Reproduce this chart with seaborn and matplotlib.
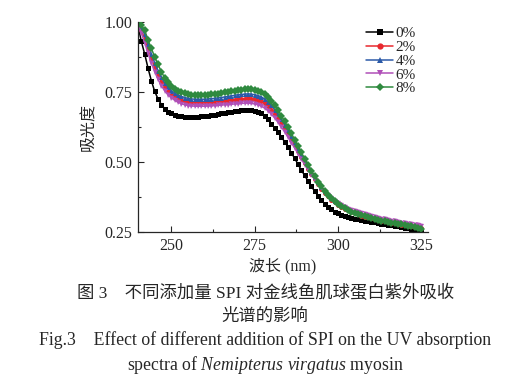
import numpy as np
import pandas as pd
import matplotlib
matplotlib.use("Agg")
import matplotlib.pyplot as plt
import seaborn as sns
from matplotlib.ticker import MultipleLocator

wavelength = list(range(240, 326))

abs_0 = [0.985, 0.93, 0.885, 0.835, 0.79, 0.752, 0.725, 0.705, 0.690, 0.680,
         0.673, 0.668, 0.665, 0.663, 0.662, 0.661, 0.661, 0.661, 0.662, 0.663,
         0.664, 0.665, 0.667, 0.669, 0.671, 0.673, 0.675, 0.677, 0.679, 0.681,
         0.683, 0.684, 0.685, 0.686, 0.685, 0.683, 0.679, 0.673, 0.665, 0.652,
         0.637, 0.622, 0.607, 0.590, 0.572, 0.553, 0.533, 0.513, 0.492, 0.471,
         0.452, 0.432, 0.413, 0.396, 0.379, 0.364, 0.351, 0.340, 0.331, 0.323,
         0.317, 0.312, 0.308, 0.304, 0.301, 0.298, 0.296, 0.293, 0.291, 0.289,
         0.287, 0.285, 0.282, 0.280, 0.278, 0.276, 0.274, 0.272, 0.270, 0.268,
         0.266, 0.263, 0.261, 0.259, 0.256, 0.254]
abs_2 = [1.0, 0.97, 0.94, 0.905, 0.87, 0.838, 0.81, 0.787, 0.768, 0.753,
         0.741, 0.732, 0.725, 0.720, 0.716, 0.713, 0.711, 0.710, 0.710, 0.710,
         0.710, 0.711, 0.712, 0.713, 0.714, 0.716, 0.717, 0.719, 0.721, 0.722,
         0.724, 0.725, 0.726, 0.727, 0.726, 0.724, 0.721, 0.716, 0.709, 0.699,
         0.687, 0.672, 0.656, 0.638, 0.620, 0.600, 0.580, 0.559, 0.538, 0.517,
         0.496, 0.476, 0.456, 0.438, 0.420, 0.404, 0.390, 0.377, 0.366, 0.356,
         0.347, 0.340, 0.333, 0.327, 0.322, 0.317, 0.313, 0.309, 0.305, 0.302,
         0.299, 0.296, 0.293, 0.291, 0.288, 0.286, 0.283, 0.281, 0.279, 0.276,
         0.274, 0.272, 0.270, 0.268, 0.266, 0.264]
abs_4 = [1.0, 0.98, 0.955, 0.92, 0.885, 0.853, 0.826, 0.802, 0.782, 0.767,
         0.755, 0.746, 0.739, 0.734, 0.730, 0.727, 0.725, 0.724, 0.724, 0.724,
         0.724, 0.725, 0.726, 0.727, 0.729, 0.730, 0.732, 0.734, 0.736, 0.738,
         0.740, 0.741, 0.742, 0.743, 0.742, 0.740, 0.737, 0.732, 0.725, 0.715,
         0.702, 0.687, 0.670, 0.652, 0.633, 0.613, 0.592, 0.571, 0.549, 0.527,
         0.506, 0.485, 0.465, 0.446, 0.428, 0.412, 0.397, 0.384, 0.372, 0.362,
         0.353, 0.345, 0.338, 0.332, 0.327, 0.322, 0.318, 0.314, 0.310, 0.307,
         0.304, 0.301, 0.298, 0.296, 0.293, 0.291, 0.288, 0.286, 0.284, 0.281,
         0.279, 0.277, 0.275, 0.273, 0.271, 0.269]
abs_6 = [0.995, 0.96, 0.925, 0.888, 0.853, 0.822, 0.795, 0.772, 0.754, 0.740,
         0.729, 0.720, 0.713, 0.708, 0.704, 0.701, 0.700, 0.699, 0.699, 0.699,
         0.699, 0.700, 0.700, 0.701, 0.702, 0.703, 0.704, 0.705, 0.706, 0.707,
         0.708, 0.709, 0.710, 0.710, 0.709, 0.707, 0.704, 0.699, 0.692, 0.683,
         0.671, 0.657, 0.642, 0.625, 0.607, 0.589, 0.569, 0.550, 0.530, 0.510,
         0.491, 0.472, 0.454, 0.437, 0.421, 0.406, 0.393, 0.381, 0.370, 0.361,
         0.353, 0.346, 0.340, 0.334, 0.329, 0.325, 0.321, 0.317, 0.313, 0.310,
         0.307, 0.304, 0.301, 0.298, 0.296, 0.293, 0.291, 0.289, 0.286, 0.284,
         0.282, 0.280, 0.278, 0.276, 0.274, 0.272]
abs_8 = [1.0, 0.99, 0.97, 0.935, 0.905, 0.875, 0.848, 0.822, 0.80, 0.785,
         0.772, 0.762, 0.755, 0.749, 0.745, 0.742, 0.740, 0.739, 0.738, 0.738,
         0.739, 0.740, 0.741, 0.742, 0.744, 0.746, 0.748, 0.750, 0.752, 0.754,
         0.756, 0.758, 0.759, 0.760, 0.760, 0.758, 0.755, 0.750, 0.743, 0.733,
         0.719, 0.703, 0.685, 0.665, 0.645, 0.624, 0.602, 0.580, 0.557, 0.534,
         0.512, 0.490, 0.469, 0.449, 0.430, 0.413, 0.397, 0.383, 0.370, 0.359,
         0.350, 0.342, 0.335, 0.329, 0.323, 0.318, 0.314, 0.310, 0.306, 0.303,
         0.300, 0.297, 0.294, 0.291, 0.289, 0.286, 0.284, 0.281, 0.279, 0.277,
         0.275, 0.272, 0.270, 0.268, 0.266, 0.262]

levels = ["0%", "2%", "4%", "6%", "8%"]
series = [abs_0, abs_2, abs_4, abs_6, abs_8]

df = pd.concat([
    pd.DataFrame({"wavelength": wavelength, "absorbance": vals, "level": lvl})
    for lvl, vals in zip(levels, series)
])

palette = {"0%": "#000000", "2%": "#e8282e", "4%": "#2c5aa8",
           "6%": "#b050b8", "8%": "#2f8a3f"}
markers = {"0%": "s", "2%": "o", "4%": "^", "6%": "v", "8%": "D"}

sns.set_style("ticks")
plt.rcParams['font.family'] = ['Liberation Serif', 'Noto Sans CJK SC']
plt.rcParams['mathtext.fontset'] = 'custom'
plt.rcParams['mathtext.rm'] = 'Liberation Serif'
plt.rcParams['mathtext.it'] = 'Liberation Serif:italic'

fig = plt.figure(figsize=(5.15, 3.9), dpi=100)
ax = fig.add_axes([0.268, 0.405, 0.563, 0.539])

sns.lineplot(
    data=df, x="wavelength", y="absorbance",
    hue="level", style="level",
    palette=palette, markers=markers, dashes=False,
    markersize=3.6, markeredgewidth=0, linewidth=1.1,
    ax=ax
)

ax.set_xlim(240, 327)
ax.set_ylim(0.25, 1.0)
ax.xaxis.set_major_locator(MultipleLocator(25))
ax.xaxis.set_minor_locator(MultipleLocator(12.5))
ax.yaxis.set_major_locator(MultipleLocator(0.25))
ax.yaxis.set_minor_locator(MultipleLocator(0.125))
ax.set_xticks([250, 275, 300, 325])
ax.tick_params(which='both', direction='in', labelsize=11.5, width=0.8)
ax.tick_params(which='major', length=4, pad=4)
ax.tick_params(which='minor', length=2)
ax.yaxis.set_major_formatter(plt.FormatStrFormatter('%.2f'))
sns.despine(ax=ax)
for sp in ax.spines.values():
    sp.set_linewidth(0.9)

ax.set_xlabel("波长 (nm)", fontsize=11.5, labelpad=3)
ax.set_ylabel("吸光度", fontsize=11.5, labelpad=5)

leg = ax.legend(loc='upper right', bbox_to_anchor=(0.99, 1.02), frameon=False,
                fontsize=11, handlelength=1.8, handletextpad=0.15,
                labelspacing=0.0, borderaxespad=0.2)
for h in leg.legend_handles:
    h.set_markersize(4.5)

fig.text(0.515, 0.248, "图 3\u3000不同添加量 SPI 对金线鱼肌球蛋白紫外吸收",
         ha='center', va='center', fontsize=12.5)
fig.text(0.515, 0.188, "光谱的影响", ha='center', va='center', fontsize=12.5)
fig.text(0.515, 0.127, "Fig.3\u2003Effect of different addition of SPI on the UV absorption",
         ha='center', va='center', fontsize=12.8)
fig.text(0.515, 0.064, r"spectra of $\mathit{Nemipterus\ virgatus}$ myosin",
         ha='center', va='center', fontsize=12.8)

fig.savefig("out.png", dpi=100)
